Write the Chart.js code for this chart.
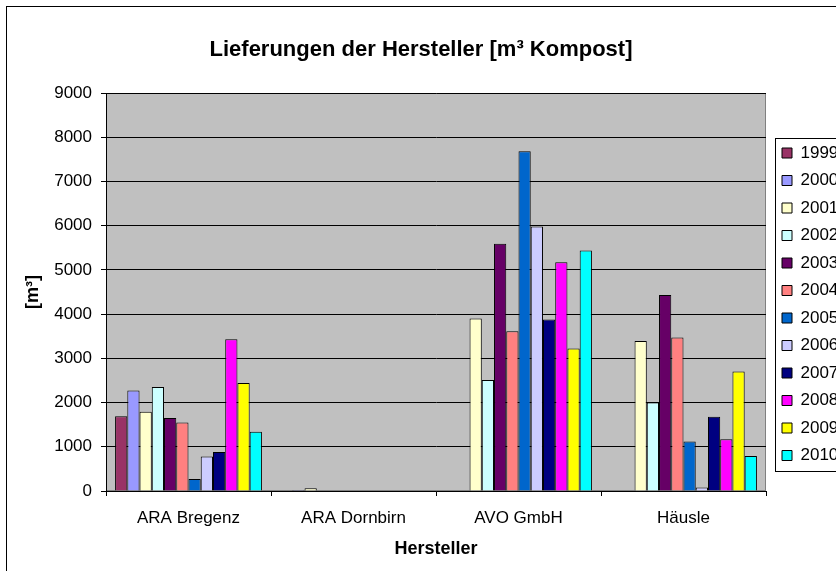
<!DOCTYPE html>
<html>
<head>
<meta charset="utf-8">
<title>Lieferungen der Hersteller</title>
<script src="https://cdn.jsdelivr.net/npm/chart.js@4.4.1/dist/chart.umd.min.js"></script>
<style>
    html, body { margin: 0; padding: 0; background: #fff; overflow: hidden; }
    #frame { position: absolute; left: 6px; top: 6px; width: 900px; height: 600px; border: 1px solid #000; }
    #wrap { position: absolute; left: 0; top: 0; width: 836px; height: 571px; }
</style>
</head>
<body>
<div id="frame"></div>
<div id="wrap"><canvas id="chart" width="836" height="571"></canvas></div>
<script>
// --- Data ---
const categories = ['ARA Bregenz', 'ARA Dornbirn', 'AVO GmbH', 'Häusle'];
const years = ['1999', '2000', '2001', '2002', '2003', '2004', '2005', '2006', '2007', '2008', '2009', '2010'];

// null = no delivery recorded (nothing drawn)
const v1999 = [1690, null, null, null];
const v2000 = [2270, 20, null, null];
const v2001 = [1790, 60, 3900, 3390];
const v2002 = [2350, null, 2510, 2000];
const v2003 = [1650, null, 5590, 4430];
const v2004 = [1550, null, 3610, 3470];
const v2005 = [270, null, 7680, 1120];
const v2006 = [780, null, 5980, 80];
const v2007 = [880, null, 3880, 1680];
const v2008 = [3430, null, 5170, 1170];
const v2009 = [2440, null, 3220, 2700];
const v2010 = [1340, null, 5440, 790];

const yearValues = [v1999, v2000, v2001, v2002, v2003, v2004, v2005, v2006, v2007, v2008, v2009, v2010];

// Excel 2003 default column palette
const colors = ['#993366', '#9999FF', '#FFFFCC', '#CCFFFF', '#660066', '#FF8080',
                '#0066CC', '#CCCCFF', '#000080', '#FF00FF', '#FFFF00', '#00FFFF'];

const FONT = "'Liberation Sans', Arial, sans-serif";
const LEGEND_PAD = 10.5;
const LEGEND_SHIFT = 5.5;

Chart.defaults.font.family = FONT;
Chart.defaults.color = '#000';

// gray plot area with its border
const plotBackground = {
    id: 'plotBackground',
    beforeDraw(chart) {
        const { ctx, chartArea: a } = chart;
        ctx.save();
        ctx.fillStyle = '#C0C0C0';
        ctx.fillRect(a.left, a.top, a.right - a.left, a.bottom - a.top);
        ctx.strokeStyle = '#808080';
        ctx.lineWidth = 1;
        ctx.strokeRect(a.left + 0.5, a.top + 0.5, a.right - a.left - 1, a.bottom - a.top - 1);
        ctx.restore();
    }
};

// move the legend a little away from the plot and frame it like Excel does
const legendFrame = {
    id: 'legendFrame',
    afterLayout(chart) {
        chart.legend.left += LEGEND_SHIFT;
        chart.legend.right += LEGEND_SHIFT;
    },
    afterDraw(chart) {
        const lg = chart.legend;
        const itemH = 17;
        const colH = years.length * (itemH + LEGEND_PAD);
        const T = lg._computeTitleHeight();
        const y0 = (lg.top + T + LEGEND_PAD + lg.bottom - colH) / 2;
        const firstC = y0 + itemH / 2;
        const lastC = firstC + (years.length - 1) * (itemH + LEGEND_PAD);
        const x = Math.round(lg.left + LEGEND_PAD - 7) + 0.5;
        const top = Math.round(firstC - 15) + 0.5;
        const bottom = Math.round(lastC + 15) + 0.5;
        const ctx = chart.ctx;
        ctx.save();
        ctx.strokeStyle = '#000';
        ctx.lineWidth = 1;
        ctx.strokeRect(x, top, 900 - x, bottom - top);
        ctx.restore();
    }
};

const ctx = document.getElementById('chart').getContext('2d');
const chart = new Chart(ctx, {
    type: 'bar',
    data: {
        labels: categories,
        datasets: years.map((y, i) => ({
            label: y,
            data: yearValues[i],
            backgroundColor: colors[i],
            borderColor: '#000',
            borderWidth: 1,
            barPercentage: 1,
            categoryPercentage: 0.89
        }))
    },
    options: {
        responsive: false,
        animation: false,
        devicePixelRatio: 1,
        layout: { padding: { left: 6, top: 6, right: 0, bottom: 0 } },
        plugins: {
            title: {
                display: true,
                text: 'Lieferungen der Hersteller [m³ Kompost]',
                color: '#000',
                font: { size: 22, weight: 'bold' },
                padding: { top: 30.8, bottom: 29.8 }
            },
            legend: {
                position: 'right',
                fullSize: false,
                maxWidth: 70,
                align: 'center',
                title: { display: true, text: '', font: { size: 12 }, padding: { top: 5, bottom: 5.1 } },
                labels: {
                    boxWidth: 10,
                    boxHeight: 10,
                    padding: LEGEND_PAD,
                    color: '#000',
                    font: { size: 17 }
                }
            },
            tooltip: { enabled: false }
        },
        scales: {
            x: {
                grid: { drawOnChartArea: false, tickLength: 5, color: '#000', offset: true },
                border: { color: '#000' },
                ticks: { padding: 12, color: '#000', font: { size: 17 } },
                title: {
                    display: true,
                    text: 'Hersteller',
                    color: '#000',
                    font: { size: 18, weight: 'bold' },
                    padding: { top: 0, bottom: 11.2 }
                },
                afterFit(scale) { scale.height = 80; }
            },
            y: {
                min: 0,
                max: 9000,
                grid: { color: '#000', tickLength: 5, lineWidth: 1 },
                border: { color: '#000' },
                ticks: {
                    stepSize: 1000,
                    padding: 9,
                    color: '#000',
                    font: { size: 17 },
                    callback: (value) => String(value)
                },
                title: {
                    display: true,
                    text: '[m³]',
                    color: '#000',
                    font: { size: 18, weight: 'bold' },
                    padding: { top: 16.2, bottom: 0 }
                },
                afterFit(scale) { scale.width = 100; }
            }
        }
    },
    plugins: [plotBackground, legendFrame]
});
</script>
</body>
</html>
